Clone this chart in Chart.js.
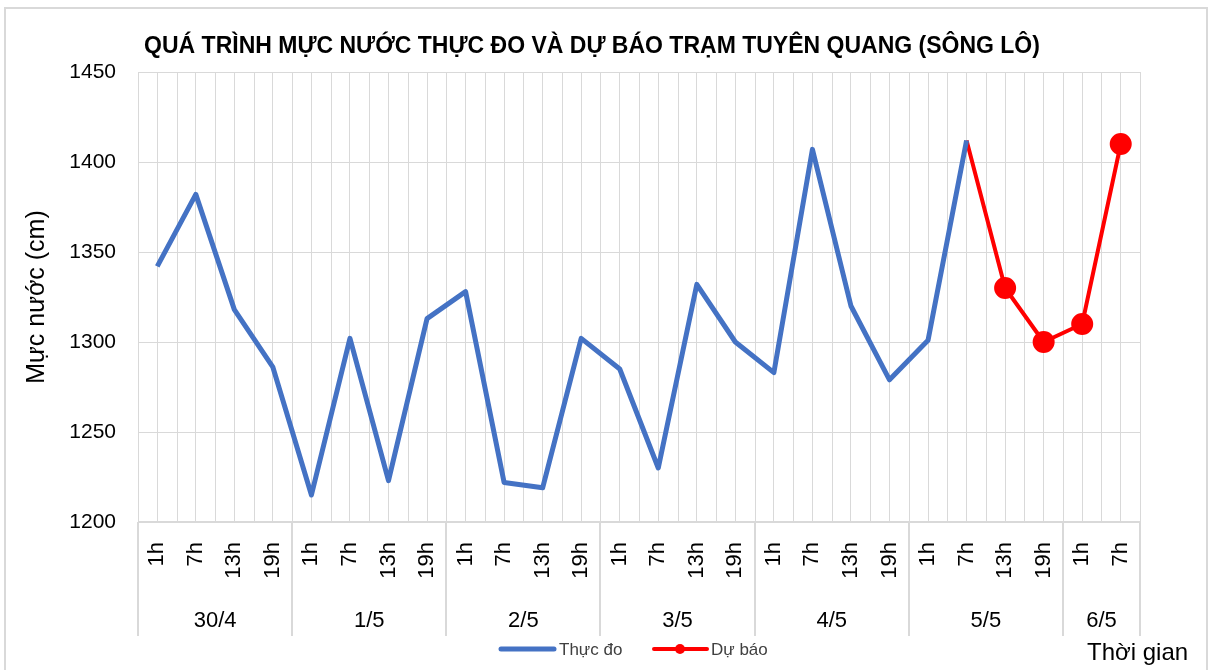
<!DOCTYPE html>
<html>
<head>
<meta charset="utf-8">
<script src="https://cdn.jsdelivr.net/npm/chart.js@4"></script>
<style>
  html, body { margin: 0; padding: 0; background: #fff; }
  #wrap { position: relative; width: 1209px; height: 670px; }
  canvas { display: block; }
</style>
</head>
<body>
<div id="wrap"><canvas id="c" width="1209" height="670"></canvas></div>
<script>
const hours = ["1h","7h","13h","19h","1h","7h","13h","19h","1h","7h","13h","19h","1h","7h","13h","19h","1h","7h","13h","19h","1h","7h","13h","19h","1h","7h"];
const days = ["30/4","1/5","2/5","3/5","4/5","5/5","6/5"];
const daySizes = [4, 4, 4, 4, 4, 4, 2];
const observed = [1342,1382,1318,1286, 1215,1302,1223,1313, 1328,1222,1219,1302, 1285,1230,1332,1300, 1283,1407,1320,1279, 1301,1412,null,null, null,null];
const forecast = [null,null,null,null, null,null,null,null, null,null,null,null, null,null,null,null, null,null,null,null, null,1412,1330,1300, 1310,1410];
const yTicks = [1200,1250,1300,1350,1400,1450];

const FONT = "'Liberation Sans', Arial, sans-serif";
const GRID = "#D9D9D9";

// centre of each date group, in category index units
const dayCenters = [];
let start = 0;
daySizes.forEach(n => { dayCenters.push(start + (n - 1) / 2); start += n; });

const decor = {
  id: "decor",
  beforeDatasetsDraw(chart) {
    const { ctx, chartArea: a, scales: { x } } = chart;
    ctx.save();
    ctx.strokeStyle = GRID;
    ctx.lineWidth = 1;
    // lines on category boundaries
    for (let i = 0; i <= hours.length; i++) {
      const px = Math.round(x.getPixelForValue(i - 0.5)) + 0.5;
      ctx.beginPath(); ctx.moveTo(px, a.top); ctx.lineTo(px, a.bottom); ctx.stroke();
    }
    // date group separators down through the axis
    ctx.lineWidth = 2;
    let s = 0;
    const bounds = [0];
    daySizes.forEach(n => { s += n; bounds.push(s); });
    bounds.forEach(b => {
      const px = Math.round(x.getPixelForValue(b - 0.5));
      ctx.beginPath(); ctx.moveTo(px, a.bottom); ctx.lineTo(px, a.bottom + 114); ctx.stroke();
    });
    ctx.beginPath(); ctx.moveTo(a.left, a.bottom); ctx.lineTo(a.right, a.bottom); ctx.stroke();
    ctx.restore();
  },
  afterDraw(chart) {
    const { ctx } = chart;
    ctx.save();
    // title
    ctx.fillStyle = "#000";
    ctx.font = "bold 23px " + FONT;
    ctx.textAlign = "center";
    ctx.textBaseline = "middle";
    ctx.fillText("QUÁ TRÌNH MỰC NƯỚC THỰC ĐO VÀ DỰ BÁO TRẠM TUYÊN QUANG (SÔNG LÔ)", 592, 47);

    // legend
    ctx.lineCap = "round";
    ctx.strokeStyle = "#4472C4"; ctx.lineWidth = 5;
    ctx.beginPath(); ctx.moveTo(501, 649); ctx.lineTo(554, 649); ctx.stroke();
    ctx.strokeStyle = "#FF0000"; ctx.lineWidth = 4;
    ctx.beginPath(); ctx.moveTo(654, 649); ctx.lineTo(707, 649); ctx.stroke();
    ctx.fillStyle = "#FF0000";
    ctx.beginPath(); ctx.arc(680, 649, 5, 0, Math.PI * 2); ctx.fill();
    ctx.fillStyle = "#404040";
    ctx.font = "17px " + FONT;
    ctx.textAlign = "left";
    ctx.fillText("Thực đo", 559, 650);
    ctx.fillText("Dự báo", 711, 650);

    // axis title
    ctx.fillStyle = "#000";
    ctx.font = "24px " + FONT;
    ctx.fillText("Thời gian", 1087, 653);

    // chart frame
    ctx.strokeStyle = GRID; ctx.lineWidth = 2;
    ctx.beginPath(); ctx.moveTo(5, 670); ctx.lineTo(5, 8); ctx.lineTo(1207, 8); ctx.lineTo(1207, 670); ctx.stroke();
    ctx.restore();
  }
};

new Chart(document.getElementById("c"), {
  type: "line",
  data: {
    labels: hours,
    datasets: [
      { label: "Thực đo", data: observed, borderColor: "#4472C4", backgroundColor: "#4472C4", borderWidth: 5, pointRadius: 0, tension: 0, spanGaps: false, borderJoinStyle: "round" },
      { label: "Dự báo", data: forecast, borderColor: "#FF0000", backgroundColor: "#FF0000", borderWidth: 4,
        pointRadius: forecast.map((v, i) => i === 21 ? 0 : 9), pointHoverRadius: 9, tension: 0, borderJoinStyle: "round" }
    ]
  },
  options: {
    responsive: false,
    animation: false,
    events: [],
    layout: { padding: { top: 72, left: 22, right: 69, bottom: 34 } },
    plugins: { legend: { display: false }, title: { display: false }, tooltip: { enabled: false } },
    scales: {
      x: {
        type: "category",
        offset: true,
        weight: 0,
        grid: { color: GRID, offset: false, drawTicks: false },
        border: { display: false },
        ticks: { autoSkip: false, minRotation: 90, maxRotation: 90, padding: 20, color: "#000", font: { family: FONT, size: 22 } },
        afterFit(scale) { scale.height = 74; }
      },
      xd: {
        type: "linear",
        position: "bottom",
        weight: 1,
        min: -0.5,
        max: hours.length - 0.5,
        grid: { display: false },
        border: { display: false },
        afterBuildTicks(scale) { scale.ticks = dayCenters.map(v => ({ value: v })); },
        ticks: { autoSkip: false, maxRotation: 0, padding: 4, color: "#000", font: { family: FONT, size: 22 },
          callback: (v, i) => days[i] },
        afterFit(scale) { scale.height = 40; }
      },
      y: {
        min: 1200,
        max: 1450,
        afterBuildTicks(scale) { scale.ticks = yTicks.map(v => ({ value: v })); },
        grid: { color: GRID, drawTicks: false },
        border: { display: false },
        ticks: { padding: 22, color: "#000", font: { family: FONT, size: 21 }, callback: v => String(v) },
        title: { display: true, text: "Mực nước (cm)", color: "#000", font: { family: FONT, size: 25 }, padding: 0 },
        afterFit(scale) { scale.width = 116; }
      }
    }
  },
  plugins: [decor]
});
</script>
</body>
</html>
